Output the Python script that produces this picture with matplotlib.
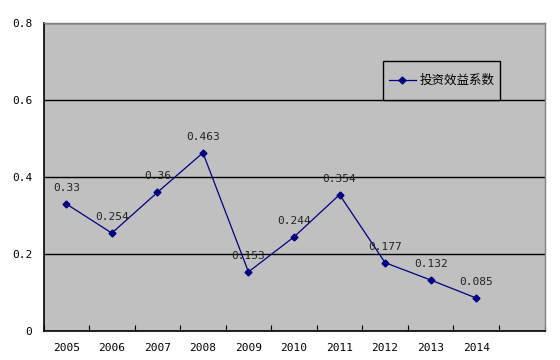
import matplotlib
matplotlib.use("Agg")
import matplotlib.pyplot as plt
from matplotlib.patches import Rectangle
from matplotlib.ticker import FixedLocator, NullFormatter

plt.rcParams['font.family'] = ['Noto Sans CJK SC', 'DejaVu Sans']

years = ['2005', '2006', '2007', '2008', '2009', '2010', '2011', '2012', '2013', '2014']
values = [0.33, 0.254, 0.36, 0.463, 0.153, 0.244, 0.354, 0.177, 0.132, 0.085]
value_labels = ['0.33', '0.254', '0.36', '0.463', '0.153', '0.244', '0.354', '0.177', '0.132', '0.085']
y_ticks = [0, 0.2, 0.4, 0.6, 0.8]
y_tick_labels = ['0', '0.2', '0.4', '0.6', '0.8']
series_name = '投资效益系数'

L, R, T, B = 43.5, 544.5, 23.3, 330.7
W, H = R - L, B - T
fig = plt.figure(figsize=(5.6, 3.6), dpi=100)
ax = fig.add_axes([L/560, (360-B)/360, W/560, H/360])
ax.set_facecolor('#C0C0C0')

x = list(range(len(years)))
ax.plot(x, values, color='#000080', lw=0.9, marker='D', ms=3.5, label=series_name, zorder=3)
for xi, v, lab in zip(x, values, value_labels):
    ax.annotate(lab, (xi, v), xytext=(0, 8), textcoords='offset points',
                ha='center', va='bottom', fontsize=8, color='#222222',
                family=['DejaVu Sans Mono'], zorder=4)

ax.set_xlim(-0.5, 10.5)
ax.set_ylim(0, 0.8)
ax.set_yticks(y_ticks)
ax.set_yticklabels(y_tick_labels, fontsize=8, family=['DejaVu Sans Mono'])
ax.yaxis.grid(True, color='black', lw=1)
ax.set_axisbelow(True)
ax.tick_params(axis='y', length=0, pad=8)

ax.xaxis.set_major_locator(FixedLocator([i + 0.5 for i in range(-1, 11)]))
ax.xaxis.set_major_formatter(NullFormatter())
ax.xaxis.set_minor_locator(FixedLocator(x))
ax.set_xticklabels(years, minor=True, fontsize=8, family=['DejaVu Sans Mono'])
ax.tick_params(axis='x', which='major', length=4, direction='in', color='black')
ax.tick_params(axis='x', which='minor', length=0, pad=9)

for s in ['left', 'bottom']:
    ax.spines[s].set_color('black')
    ax.spines[s].set_linewidth(1.2)
for s in ['top', 'right']:
    ax.spines[s].set_color('#808080')
    ax.spines[s].set_linewidth(1)

# legend box frame
bx0, bx1, by0, by1 = 383, 500, 61, 100
ax.add_patch(Rectangle(((bx0-L)/W, (B-by1)/H), (bx1-bx0)/W, (by1-by0)/H,
                       transform=ax.transAxes, facecolor='#C0C0C0',
                       edgecolor='black', lw=1, zorder=5))
leg = ax.legend(loc='center left', bbox_to_anchor=((bx0-L)/W, (B-(by0+by1)/2)/H),
                frameon=False, fontsize=9, handlelength=2.1, borderpad=0.5,
                handletextpad=0.3, borderaxespad=0)
leg.set_zorder(6)

fig.savefig('out.png', dpi=100)
